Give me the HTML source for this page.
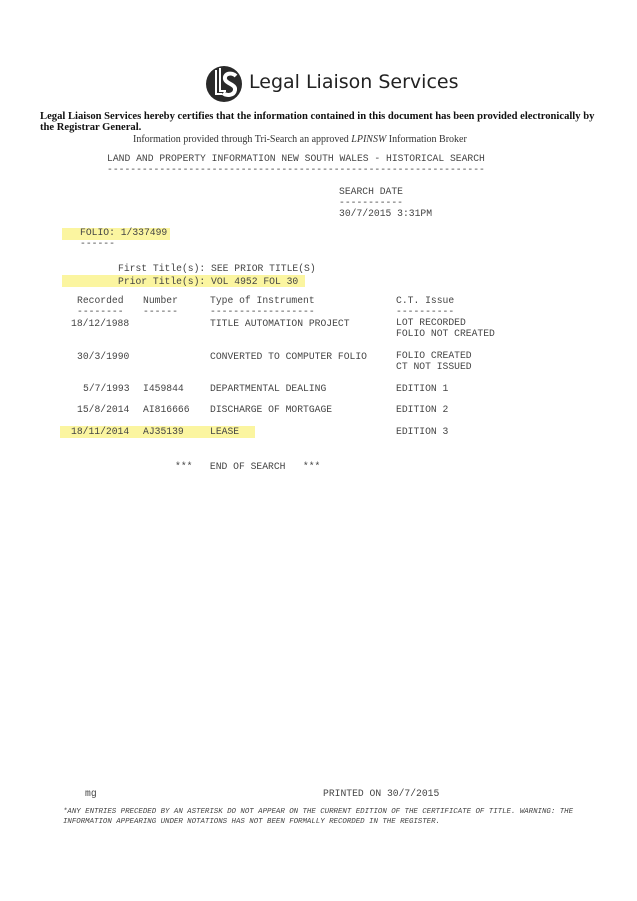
<!DOCTYPE html>
<html><head><style>
body{margin:0;width:637px;height:901px;background:#fff;position:relative;overflow:hidden;color:#333}
.m{position:absolute;font-family:"Liberation Mono",monospace;font-size:9.7px;white-space:pre;line-height:11px;color:#444}
.s{position:absolute;font-family:"Liberation Serif",serif;white-space:nowrap;color:#111}
.h{position:absolute;background:#fbf5a0}
</style></head><body>
<div class="h" style="left:62px;top:228px;width:108px;height:12px"></div>
<div class="h" style="left:62px;top:275px;width:243px;height:12px"></div>
<div class="h" style="left:60px;top:426px;width:195px;height:12px"></div>

<svg style="position:absolute;left:204px;top:64px" width="40" height="40" viewBox="0 0 40 40">
<circle cx="20" cy="20" r="18" fill="#2a2a2a"/>
<path d="M12 6 V30 H18 M16 4 V27 H22" stroke="#fff" stroke-width="2" fill="none"/>
<path d="M32 12 C28 8 20 9 21 15 C22 20 32 20 31 26 C30 32 22 32 19 29" stroke="#fff" stroke-width="4" fill="none"/>
</svg>
<div class="s" style="left:249px;top:71px;font-family:'DejaVu Sans','Liberation Sans',sans-serif;font-size:19px;color:#222">Legal Liaison Services</div>

<div class="s" style="left:40px;top:111px;font-size:10.6px;font-weight:bold">Legal Liaison Services hereby certifies that the information contained in this document has been provided electronically by</div>
<div class="s" style="left:40px;top:122px;font-size:10.6px;font-weight:bold">the Registrar General.</div>
<div class="s" style="left:133px;top:134px;font-size:10px;color:#333">Information provided through Tri-Search an approved <i>LPINSW</i> Information Broker</div>

<div class="m" style="left:107px;top:153px">LAND AND PROPERTY INFORMATION NEW SOUTH WALES - HISTORICAL SEARCH
-----------------------------------------------------------------</div>
<div class="m" style="left:339px;top:186px;line-height:11px">SEARCH DATE
-----------
30/7/2015 3:31PM</div>
<div class="m" style="left:80px;top:228px;line-height:10.5px">FOLIO: 1/337499
------</div>
<div class="m" style="left:118px;top:262px;line-height:13px">First Title(s): SEE PRIOR TITLE(S)
Prior Title(s): VOL 4952 FOL 30</div>

<div class="m" style="left:77px;top:296px;line-height:10.8px">Recorded
--------</div>
<div class="m" style="left:143px;top:296px;line-height:10.8px">Number
------</div>
<div class="m" style="left:210px;top:296px;line-height:10.8px">Type of Instrument
------------------</div>
<div class="m" style="left:396px;top:296px;line-height:10.8px">C.T. Issue
----------</div>

<div class="m" style="left:71px;top:318px">18/12/1988</div>
<div class="m" style="left:210px;top:318px">TITLE AUTOMATION PROJECT</div>
<div class="m" style="left:396px;top:318px;line-height:10.8px">LOT RECORDED
FOLIO NOT CREATED</div>

<div class="m" style="left:77px;top:351px">30/3/1990</div>
<div class="m" style="left:210px;top:351px">CONVERTED TO COMPUTER FOLIO</div>
<div class="m" style="left:396px;top:351px;line-height:10.8px">FOLIO CREATED
CT NOT ISSUED</div>

<div class="m" style="left:83px;top:383px">5/7/1993</div>
<div class="m" style="left:143px;top:383px">I459844</div>
<div class="m" style="left:210px;top:383px">DEPARTMENTAL DEALING</div>
<div class="m" style="left:396px;top:383px">EDITION 1</div>

<div class="m" style="left:77px;top:404px">15/8/2014</div>
<div class="m" style="left:143px;top:404px">AI816666</div>
<div class="m" style="left:210px;top:404px">DISCHARGE OF MORTGAGE</div>
<div class="m" style="left:396px;top:404px">EDITION 2</div>

<div class="m" style="left:71px;top:426px">18/11/2014</div>
<div class="m" style="left:143px;top:426px">AJ35139</div>
<div class="m" style="left:210px;top:426px">LEASE</div>
<div class="m" style="left:396px;top:426px">EDITION 3</div>

<div class="m" style="left:175px;top:461px">***   END OF SEARCH   ***</div>

<div class="m" style="left:85px;top:788px">mg</div>
<div class="m" style="left:323px;top:788px">PRINTED ON 30/7/2015</div>
<div class="m" style="left:63px;top:807px;font-size:7.4px;line-height:10px;font-style:italic">*ANY ENTRIES PRECEDED BY AN ASTERISK DO NOT APPEAR ON THE CURRENT EDITION OF THE CERTIFICATE OF TITLE. WARNING: THE
INFORMATION APPEARING UNDER NOTATIONS HAS NOT BEEN FORMALLY RECORDED IN THE REGISTER.</div>
</body></html>
